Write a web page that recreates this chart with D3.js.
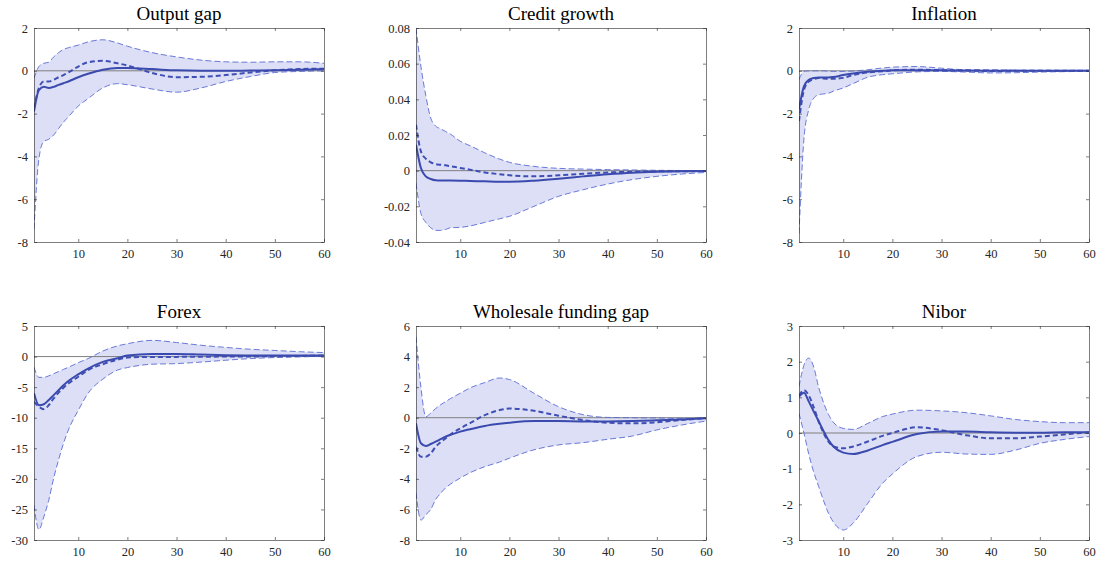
<!DOCTYPE html>
<html>
<head>
<meta charset="utf-8">
<script src="https://cdn.jsdelivr.net/npm/d3@7"></script>
<style>
  body { margin: 0; background: #fff; }
</style>
</head>
<body>
<div id="chart"></div>
<script>
// horizon periods the values were read at
var periods = [1, 2, 3, 4, 5, 6, 7, 8, 10, 12, 15, 18, 20, 25, 30, 35, 40, 45, 50, 55, 60];
var xTicks = [10, 20, 30, 40, 50, 60];

var titles = ["Output gap", "Credit growth", "Inflation", "Forex", "Wholesale funding gap", "Nibor"];

var yDomains = [[-8, 2], [-0.04, 0.08], [-8, 2], [-30, 5], [-8, 6], [-3, 3]];
var yTicks = [
  [-8, -6, -4, -2, 0, 2],
  [-0.04, -0.02, 0, 0.02, 0.04, 0.06, 0.08],
  [-8, -6, -4, -2, 0, 2],
  [-30, -25, -20, -15, -10, -5, 0, 5],
  [-8, -6, -4, -2, 0, 2, 4, 6],
  [-3, -2, -1, 0, 1, 2, 3]
];

// upper band
var upper = [
  [-0.35, 0.2, 0.35, 0.4, 0.65, 0.85, 1.0, 1.08, 1.2, 1.35, 1.45, 1.3, 1.15, 0.85, 0.65, 0.5, 0.42, 0.4, 0.42, 0.42, 0.35],
  [0.08, 0.0585, 0.042, 0.0295, 0.025, 0.0235, 0.022, 0.0205, 0.0165, 0.014, 0.01, 0.0065, 0.0047, 0.0024, 0.0013, 0.0009, 0.0006, 0.0004, 0.0002, 0.0001, 0],
  [-0.4, -0.03, 0.0, 0.0, 0.0, 0.0, -0.02, -0.03, -0.03, -0.01, 0.05, 0.13, 0.17, 0.2, 0.12, 0.05, 0.05, 0.03, 0.02, 0.02, 0.02],
  [-1.7, -3.4, -3.4, -3.15, -2.8, -2.45, -2.1, -1.75, -1.0, -0.33, 0.9, 1.75, 2.1, 2.65, 2.3, 1.85, 1.5, 1.2, 1.0, 0.8, 0.65],
  [5.3, 2.0, 0.07, 0.3, 0.6, 0.85, 1.05, 1.25, 1.6, 1.95, 2.3, 2.6, 2.5, 1.6, 0.72, 0.2, 0.02, 0.0, -0.02, -0.04, -0.04],
  [1.3, 1.9, 2.1, 1.85, 1.28, 0.85, 0.52, 0.3, 0.13, 0.1, 0.27, 0.46, 0.53, 0.64, 0.62, 0.57, 0.48, 0.38, 0.32, 0.29, 0.29]
];

// lower band
var lower = [
  [-7.4, -4.1, -3.3, -3.2, -3.0, -2.7, -2.4, -2.15, -1.65, -1.3, -0.8, -0.6, -0.65, -0.85, -1.0, -0.8, -0.5, -0.27, -0.08, -0.03, 0.0],
  [-0.007, -0.024, -0.029, -0.032, -0.0335, -0.0335, -0.033, -0.032, -0.0318, -0.031, -0.029, -0.027, -0.0256, -0.02, -0.0144, -0.0107, -0.0075, -0.005, -0.0032, -0.0019, -0.001],
  [-7.6, -3.2, -1.8, -1.28, -1.12, -1.08, -1.05, -0.95, -0.8, -0.6, -0.3, -0.18, -0.14, -0.05, -0.03, -0.06, -0.1, -0.09, -0.06, -0.04, -0.02],
  [-24.3, -28.3, -26.2, -23.5, -19.9, -16.9, -14.2, -12.0, -8.8, -6.0, -3.7, -2.2, -1.8, -1.25, -1.15, -0.9, -0.6, -0.33, -0.16, -0.05, 0.05],
  [-4.9, -6.7, -6.35, -6.0, -5.35, -4.95, -4.6, -4.35, -3.95, -3.6, -3.2, -2.9, -2.65, -2.1, -1.78, -1.63, -1.41, -1.2, -0.8, -0.48, -0.22],
  [0.55, 0.0, -0.6, -1.1, -1.5, -1.9, -2.25, -2.5, -2.72, -2.53, -1.97, -1.41, -1.15, -0.66, -0.54, -0.59, -0.6, -0.48, -0.29, -0.18, -0.1]
];

// solid line
var median = [
  [-1.9, -0.9, -0.75, -0.8, -0.75, -0.66, -0.58, -0.5, -0.3, -0.14, 0.05, 0.13, 0.13, 0.08, 0.02, 0.0, 0.0, 0.01, 0.02, 0.05, 0.08],
  [0.0146, 0.0015, -0.0032, -0.0047, -0.0054, -0.0055, -0.0055, -0.0055, -0.0056, -0.0058, -0.006, -0.0062, -0.0062, -0.0056, -0.0045, -0.0032, -0.002, -0.0011, -0.0006, -0.0003, -0.0002],
  [-1.8, -0.73, -0.42, -0.34, -0.31, -0.31, -0.31, -0.29, -0.2, -0.13, -0.05, 0.0, 0.02, 0.03, 0.03, 0.01, 0.0, 0.0, 0.0, 0.0, 0.0],
  [-6.0, -7.95, -7.8, -7.1, -6.3, -5.5, -4.7, -4.0, -2.9, -1.96, -0.87, -0.27, 0.16, 0.44, 0.44, 0.33, 0.22, 0.18, 0.16, 0.16, 0.16],
  [-0.37, -1.67, -1.85, -1.72, -1.57, -1.4, -1.24, -1.12, -0.91, -0.75, -0.54, -0.4, -0.33, -0.22, -0.22, -0.24, -0.24, -0.22, -0.17, -0.11, -0.04],
  [1.02, 1.13, 0.88, 0.6, 0.33, 0.05, -0.2, -0.38, -0.55, -0.59, -0.49, -0.34, -0.25, -0.03, 0.04, 0.04, 0.02, 0.01, 0.01, 0.02, 0.02]
];

// thick dashed line
var alt = [
  [-1.75, -0.8, -0.5, -0.5, -0.42, -0.3, -0.2, -0.08, 0.2, 0.4, 0.47, 0.35, 0.25, -0.1, -0.3, -0.28, -0.2, -0.08, 0.02, 0.08, 0.1],
  [0.0258, 0.0108, 0.0067, 0.0047, 0.0037, 0.0033, 0.003, 0.0025, 0.0015, 0.0005, -0.001, -0.002, -0.0026, -0.0032, -0.0026, -0.0017, -0.001, -0.0006, -0.0004, -0.0003, -0.0002],
  [-2.35, -0.9, -0.5, -0.39, -0.34, -0.36, -0.37, -0.37, -0.33, -0.2, -0.08, -0.02, 0.02, 0.05, 0.03, 0.01, -0.01, 0.0, 0.0, 0.0, 0.0],
  [-7.4, -8.2, -8.6, -7.95, -6.85, -5.9, -5.1, -4.4, -3.3, -2.2, -1.25, -0.5, -0.16, -0.05, -0.05, -0.02, 0.0, 0.02, 0.05, 0.1, 0.16],
  [-1.9, -2.55, -2.55, -2.33, -1.9, -1.6, -1.35, -1.1, -0.7, -0.35, 0.17, 0.5, 0.6, 0.45, 0.13, -0.15, -0.33, -0.37, -0.3, -0.15, -0.04],
  [1.05, 1.2, 1.05, 0.72, 0.32, 0.0, -0.24, -0.38, -0.43, -0.38, -0.24, -0.08, 0.0, 0.16, 0.08, -0.06, -0.15, -0.15, -0.1, -0.04, 0.02]
];

var width = 1104, height = 564;
var pw = 290, ph = 214;
var lefts = [34, 416, 799];
var tops = [28, 326];
var serif = "'Liberation Serif', 'Times New Roman', serif";

var svg = d3.select("#chart").append("svg")
    .attr("width", width)
    .attr("height", height);

var fmt = function(d) {
  return String(+d.toFixed(4));
};

titles.forEach(function(title, i) {
  var g = svg.append("g")
      .attr("transform", "translate(" + lefts[i % 3] + "," + tops[Math.floor(i / 3)] + ")");

  var x = d3.scaleLinear().domain([1, 60]).range([0, pw]);
  var y = d3.scaleLinear().domain(yDomains[i]).range([ph, 0]);

  var rows = periods.map(function(p, k) {
    return {p: p, lo: lower[i][k], hi: upper[i][k], med: median[i][k], alt: alt[i][k]};
  });

  var clipId = "clip" + i;
  g.append("clipPath").attr("id", clipId)
    .append("rect").attr("width", pw).attr("height", ph);

  var plot = g.append("g").attr("clip-path", "url(#" + clipId + ")");

  var curve = d3.curveMonotoneX;

  plot.append("path")
      .datum(rows)
      .attr("fill", "#dcdff6")
      .attr("d", d3.area().curve(curve)
        .x(function(d) { return x(d.p); })
        .y0(function(d) { return y(d.lo); })
        .y1(function(d) { return y(d.hi); }));

  // zero line
  plot.append("line")
      .attr("x1", 0).attr("x2", pw)
      .attr("y1", y(0)).attr("y2", y(0))
      .attr("stroke", "#7f7f7f")
      .attr("stroke-width", 1);

  ["lo", "hi"].forEach(function(k) {
    plot.append("path")
        .datum(rows)
        .attr("fill", "none")
        .attr("stroke", "#5b6cd2")
        .attr("stroke-width", 0.9)
        .attr("stroke-dasharray", "6,3")
        .attr("d", d3.line().curve(curve)
          .x(function(d) { return x(d.p); })
          .y(function(d) { return y(d[k]); }));
  });

  plot.append("path")
      .datum(rows)
      .attr("fill", "none")
      .attr("stroke", "#3f4fb3")
      .attr("stroke-width", 2)
      .attr("stroke-dasharray", "5,3")
      .attr("d", d3.line().curve(curve)
        .x(function(d) { return x(d.p); })
        .y(function(d) { return y(d.alt); }));

  plot.append("path")
      .datum(rows)
      .attr("fill", "none")
      .attr("stroke", "#3b4aae")
      .attr("stroke-width", 2)
      .attr("d", d3.line().curve(curve)
        .x(function(d) { return x(d.p); })
        .y(function(d) { return y(d.med); }));

  // axes, MATLAB style: inward ticks on all four sides
  var axisStyle = function(sel) {
    sel.attr("font-family", serif).attr("font-size", 12.5);
    sel.select(".domain").attr("stroke", "#262626").attr("stroke-width", 0.6);
    sel.selectAll(".tick line").attr("stroke", "#262626").attr("stroke-width", 0.6);
    sel.selectAll("text").attr("fill", "#262626");
  };

  g.append("g")
      .attr("transform", "translate(0," + ph + ")")
      .call(d3.axisBottom(x).tickValues(xTicks).tickSizeInner(-3).tickSizeOuter(0).tickPadding(7))
      .call(axisStyle);
  g.append("g")
      .call(d3.axisTop(x).tickValues(xTicks).tickSizeInner(-3).tickSizeOuter(0).tickFormat(""))
      .call(axisStyle);
  g.append("g")
      .call(d3.axisLeft(y).tickValues(yTicks[i]).tickSizeInner(-3).tickSizeOuter(0).tickPadding(6).tickFormat(fmt))
      .call(axisStyle);
  g.append("g")
      .attr("transform", "translate(" + pw + ",0)")
      .call(d3.axisRight(y).tickValues(yTicks[i]).tickSizeInner(-3).tickSizeOuter(0).tickFormat(""))
      .call(axisStyle);

  g.append("text")
      .attr("x", pw / 2)
      .attr("y", -8)
      .attr("text-anchor", "middle")
      .attr("fill", "#000")
      .attr("font-family", serif)
      .attr("font-size", 19)
      .text(title);
});
</script>
</body>
</html>
